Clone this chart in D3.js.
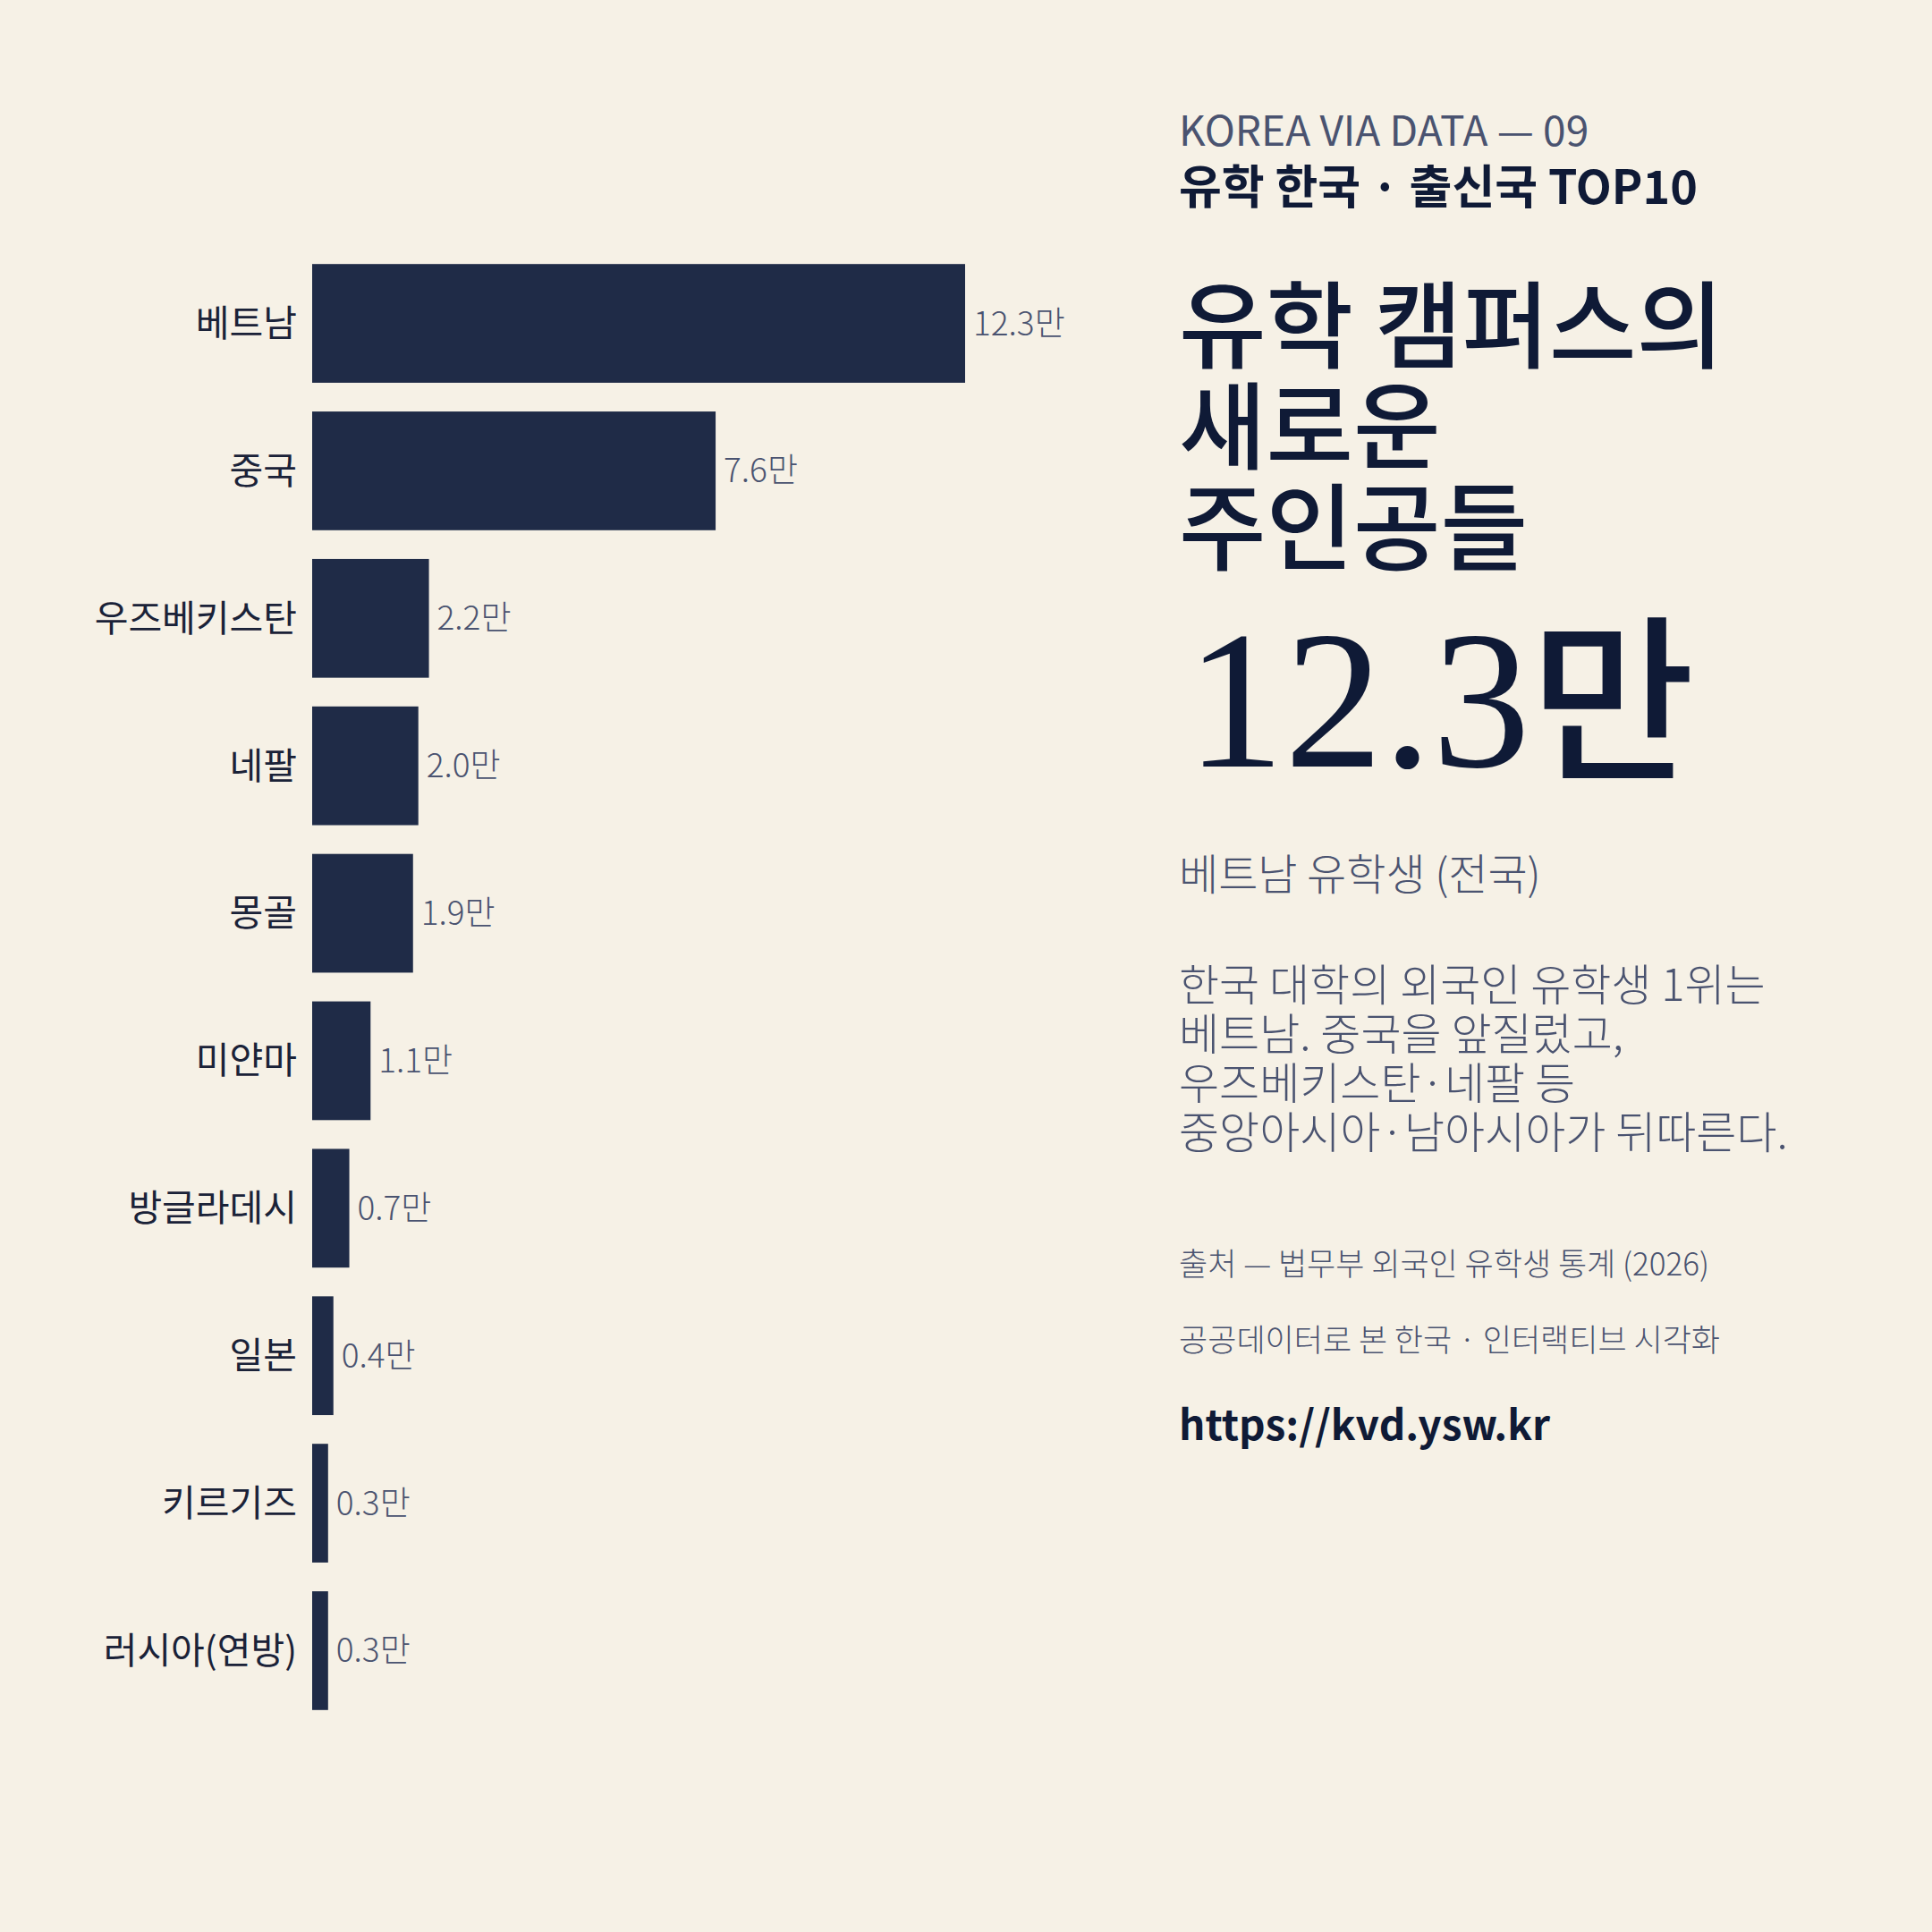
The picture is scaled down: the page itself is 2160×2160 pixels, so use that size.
<!DOCTYPE html><html><head><meta charset="utf-8">
<script src="https://cdn.jsdelivr.net/npm/d3@7"></script>
<style>body{margin:0;background:#f6f1e6}</style></head><body>
<script>
const countries=["베트남","중국","우즈베키스탄","네팔","몽골","미얀마","방글라데시","일본","키르기즈","러시아(연방)"];
const values=[12.3,7.6,2.2,2.0,1.9,1.1,0.7,0.4,0.3,0.3];
const bodyLines=["한국 대학의 외국인 유학생 1위는","베트남. 중국을 앞질렀고,","우즈베키스탄·네팔 등","중앙아시아·남아시아가 뒤따른다."];
const W=2160,H=2160;
const svg=d3.select("body").append("svg").attr("width",W).attr("height",H);
svg.append("rect").attr("width",W).attr("height",H).attr("fill","#f6f1e6");
const font="'Noto Sans CJK KR','Noto Sans',sans-serif";
const x=d3.scaleLinear().domain([0,12.3]).range([349,1079]);
const y=d3.scaleBand().domain(countries).range([282,1925]).paddingInner(0.195).paddingOuter(0.08);
const g=svg.append("g");
g.selectAll("rect.b").data(countries).join("rect").attr("x",x(0)).attr("y",d=>y(d))
 .attr("width",(d,i)=>x(values[i])-x(0)).attr("height",y.bandwidth()).attr("fill","#1f2b47");
g.selectAll("text.c").data(countries).join("text").attr("x",332).attr("y",d=>y(d)+y.bandwidth()/2)
 .attr("dy","0.35em").attr("text-anchor","end").attr("font-family",font).attr("font-size",41).attr("fill","#1a2238").text(d=>d);
g.selectAll("text.v").data(countries).join("text").attr("x",(d,i)=>x(values[i])+9).attr("y",d=>y(d)+y.bandwidth()/2)
 .attr("dy","0.35em").attr("font-family",font).attr("font-size",37).attr("font-weight",300).attr("fill","#4a5370").text((d,i)=>values[i].toFixed(1)+"만");
const X=1318;
function t(s,yy,size,col,w,fam){svg.append("text").attr("x",X).attr("y",yy).attr("font-family",fam||font).attr("font-size",size).attr("fill",col).attr("font-weight",w||400).text(s);}
t("KOREA VIA DATA — 09",163,46,"#4a5370",400);
t("유학 한국 · 출신국 TOP10",228,52,"#0f1a36",700);
["유학 캠퍼스의","새로운","주인공들"].forEach((s,i)=>t(s,403+i*113,106,"#0f1a36",500));
svg.append("text").attr("x",X+8).attr("y",857).attr("fill","#0f1a36").attr("font-size",220)
 .attr("font-family","'Liberation Serif','DejaVu Serif',serif").text("12.3").append("tspan").attr("font-family",font).attr("font-weight",500).attr("font-size",200).text("만");
t("베트남 유학생 (전국)",995,48,"#4a5370",300);
bodyLines.forEach((s,i)=>t(s,1119+i*55,49,"#4a5370",300));
t("출처 — 법무부 외국인 유학생 통계 (2026)",1426,35,"#4a5370",300);
t("공공데이터로 본 한국 · 인터랙티브 시각화",1511,35,"#4a5370",300);
t("https://kvd.ysw.kr",1610,46,"#0f1a36",700);
</script></body></html>
